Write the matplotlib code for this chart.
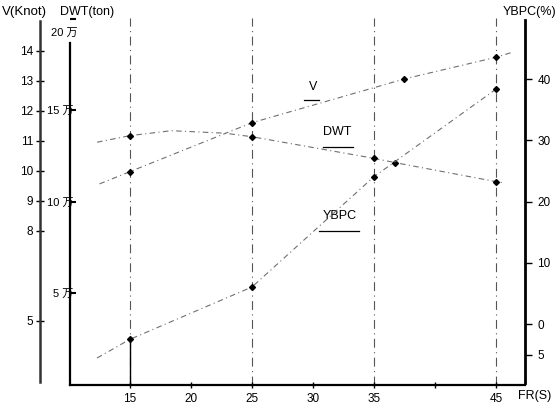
import matplotlib
matplotlib.use("Agg")
import matplotlib.pyplot as plt
import matplotlib.transforms as mtransforms

plt.rcParams['font.family'] = ['Liberation Sans', 'Noto Sans CJK SC']
plt.rcParams['font.size'] = 8.5

# FR(S) positions and the three curves
fr_v = [12.5, 15, 25, 37.5, 45, 46.2]
v_knot = [9.56, 9.97, 11.60, 13.06, 13.78, 13.93]

fr_dwt = [12.3, 15, 18.4, 22.8, 25, 35, 36.7, 45, 45.7]
dwt_wan = [13.25, 13.61, 13.88, 13.74, 13.55, 12.37, 12.14, 11.10, 11.03]

fr_ybpc = [12.3, 15, 25, 35, 45]
ybpc_pct = [-5.54, -2.48, 6.06, 24.08, 38.37]

x_ticks = [15, 20, 25, 30, 35, 40, 45]
x_labels = ['15', '20', '25', '30', '35', '', '45']
guide_x = [15, 25, 35, 45]
v_ticks = [5, 8, 9, 10, 11, 12, 13, 14]
dwt_ticks = [5, 10, 15, 20]
dwt_labels = ['5 万', '10 万', '15 万', '20 万']
ybpc_ticks = [40, 30, 20, 10, 0, -5]
ybpc_labels = ['40', '30', '20', '10', '0', '5']

line_kw = dict(color='#707070', lw=0.8, linestyle=(0, (5, 3, 1, 3)))
mark_kw = dict(marker='D', markersize=3, markerfacecolor='black', markeredgecolor='black')

fig = plt.figure(figsize=(5.58, 4.05), dpi=100)
ax = fig.add_axes([70 / 558, 1 - 385 / 405, 455 / 558, 367 / 405])

# main axes: DWT on the inner left spine, FR on x
ax.set_xlim(10.08, 47.38)
ax.set_ylim(0, 20.03)
ax.spines['top'].set_visible(False)
ax.spines['right'].set_visible(False)
ax.spines['left'].set_linewidth(1.6)
ax.spines['left'].set_bounds(0, 18.67)
ax.spines['bottom'].set_linewidth(1.6)
ax.set_xticks(x_ticks)
ax.set_xticklabels(x_labels)
ax.tick_params(axis='x', direction='inout', length=5, width=1, pad=3)
ax.set_yticks(dwt_ticks)
ax.set_yticklabels(dwt_labels)
ax.tick_params(axis='y', direction='in', length=4, width=1.5, pad=-2.5, labelsize=8)
# the top DWT label sits a little lower in the scan
top_lbl = ax.get_yticklabels()[-1]
top_lbl.set_transform(top_lbl.get_transform() +
                      mtransforms.ScaledTranslation(4 / 100, -13 / 100, fig.dpi_scale_trans))

for gx in guide_x:
    ax.axvline(gx, color='#555555', lw=0.8, linestyle=(0, (8, 4, 1, 4)), zorder=1)

ax.plot(fr_dwt, dwt_wan, **line_kw, zorder=2)
ax.plot([fr_dwt[i] for i in (1, 4, 5, 6, 7)], [dwt_wan[i] for i in (1, 4, 5, 6, 7)],
        linestyle='none', **mark_kw, zorder=3)

# V axis on the outer left
ax_v = ax.twinx()
ax_v.set_ylim(2.857, 15.09)
ax_v.yaxis.set_ticks_position('left')
ax_v.yaxis.set_label_position('left')
ax_v.spines['left'].set_position(('axes', -30 / 455))
ax_v.spines['left'].set_bounds(2.96, 15.0)
ax_v.spines['left'].set_linewidth(1.8)
ax_v.spines['left'].set_color('#333333')
for s in ('right', 'top', 'bottom'):
    ax_v.spines[s].set_visible(False)
ax_v.set_yticks(v_ticks)
ax_v.tick_params(axis='y', direction='inout', length=6, width=1, pad=2)
ax_v.plot(fr_v, v_knot, **line_kw, zorder=2)
ax_v.plot(fr_v[1:5], v_knot[1:5], linestyle='none', **mark_kw, zorder=3)

# YBPC axis on the right
ax_y = ax.twinx()
ax_y.set_ylim(-9.95, 50.0)
ax_y.spines['right'].set_bounds(-9.6, 49.7)
ax_y.spines['right'].set_linewidth(2)
for s in ('left', 'top', 'bottom'):
    ax_y.spines[s].set_visible(False)
ax_y.set_yticks(ybpc_ticks)
ax_y.set_yticklabels(ybpc_labels)
ax_y.tick_params(axis='y', direction='out', length=5, width=1, pad=4)
ax_y.plot(fr_ybpc, ybpc_pct, **line_kw, zorder=2)
ax_y.plot(fr_ybpc[1:], ybpc_pct[1:], linestyle='none', **mark_kw, zorder=3)
ax_y.vlines(fr_ybpc[1], -9.95, ybpc_pct[1], color='black', lw=1)

# curve labels with underlines
for txt, tx, ty, ux0, ux1, uy in [('V', 30.0, 15.94, 29.3, 30.5, 15.56),
                                  ('DWT', 32.0, 13.5, 30.8, 33.3, 12.97),
                                  ('YBPC', 32.2, 8.91, 30.5, 33.8, 8.42)]:
    ax.text(tx, ty, txt, ha='center', va='bottom', fontsize=9)
    ax.plot([ux0, ux1], [uy, uy], color='black', lw=0.9)

# axis titles
fig.text(2 / 558, 1 - 12 / 405, 'V(Knot)', ha='left', va='center', fontsize=9.5)
fig.text(60 / 558, 1 - 12 / 405, 'DWT(ton)', ha='left', va='center', fontsize=9)
fig.text(556 / 558, 1 - 12 / 405, 'YBPC(%)', ha='right', va='center', fontsize=9)
fig.text(518 / 558, 1 - 396 / 405, 'FR(S)', ha='left', va='center', fontsize=9)

fig.savefig('out.png', dpi=100, facecolor='white')
